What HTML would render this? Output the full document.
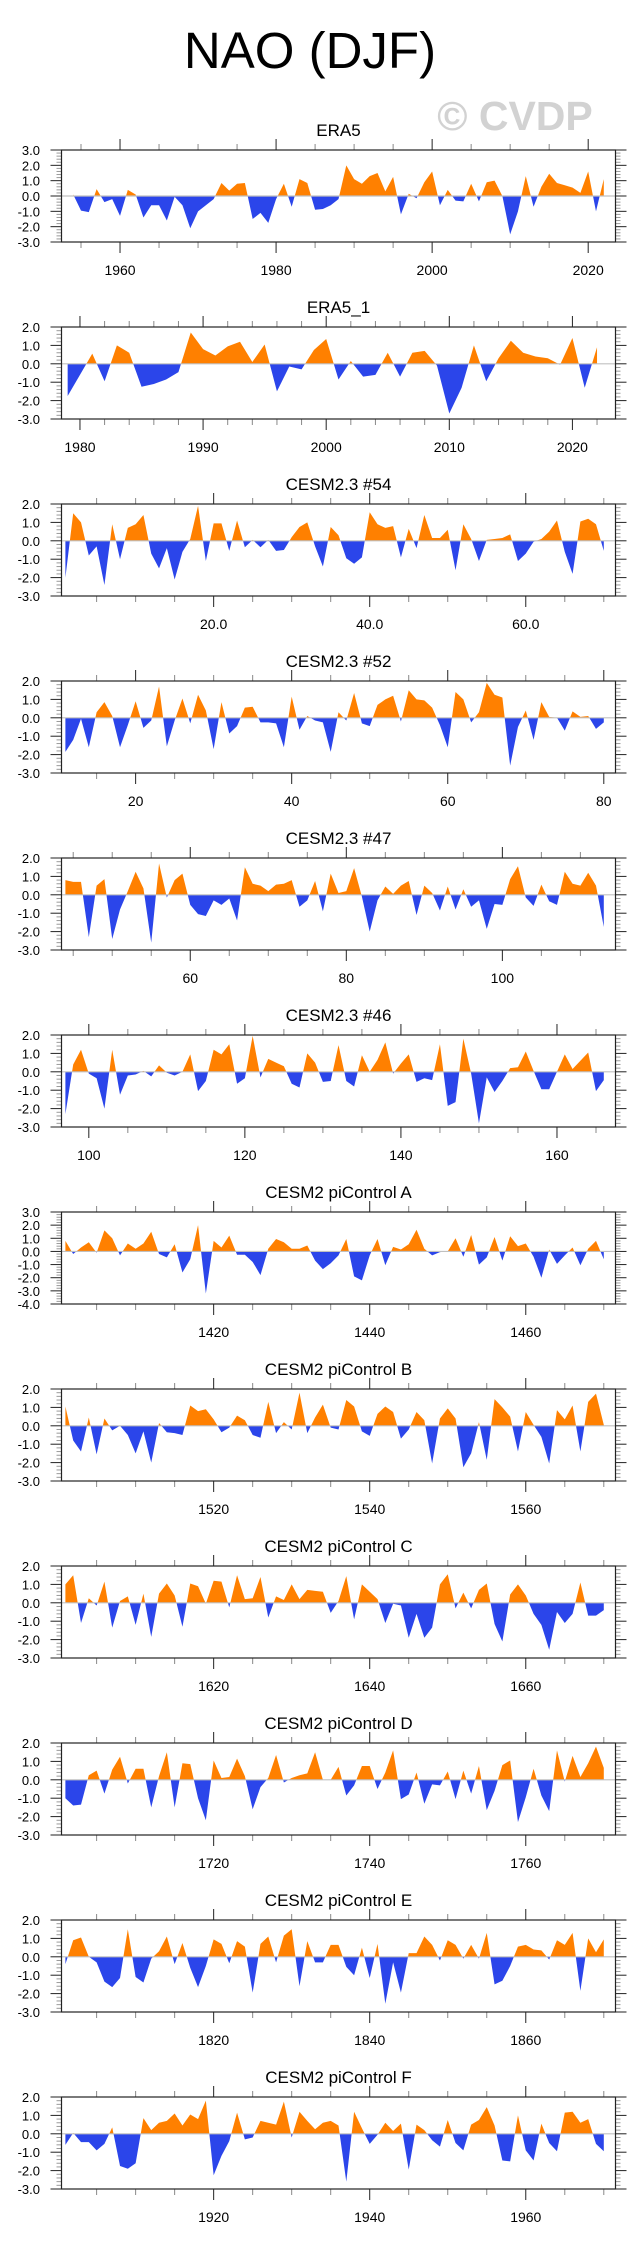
<!DOCTYPE html>
<html><head><meta charset="utf-8"><style>
body{margin:0;background:#fff}
svg{display:block;font-family:"Liberation Sans",sans-serif}
</style></head><body>
<svg id="chart" width="641" height="2253" viewBox="0 0 641 2253" xmlns="http://www.w3.org/2000/svg">
<text x="310" y="68" font-size="51" text-anchor="middle">NAO (DJF)</text>
<text x="515" y="130" font-size="41" font-weight="bold" fill="#d2d2d2" text-anchor="middle">© CVDP</text>
</svg>
<script>
const titles=["ERA5","ERA5_1","CESM2.3 #54","CESM2.3 #52","CESM2.3 #47","CESM2.3 #46","CESM2 piControl A","CESM2 piControl B","CESM2 piControl C","CESM2 piControl D","CESM2 piControl E","CESM2 piControl F"];
const startYears=[1954,1979,1,11,44,97,1401,1501,1601,1701,1801,1901];
const yMaxs=[3,2,2,2,2,2,3,2,2,2,2,2];
const yMins=[-3,-3,-3,-3,-3,-3,-4,-3,-3,-3,-3,-3];
const s0=[0.1,-0.95,-1.05,0.45,-0.4,-0.2,-1.3,0.4,0.1,-1.4,-0.6,-0.6,-1.6,-0.05,-0.6,-2.1,-1.0,-0.6,-0.2,0.85,0.35,0.8,0.85,-1.5,-1.1,-1.75,-0.2,0.8,-0.7,1.1,0.85,-0.9,-0.85,-0.6,-0.2,2.0,1.1,0.8,1.3,1.5,0.3,1.25,-1.2,0.15,-0.15,0.9,1.6,-0.6,0.4,-0.3,-0.35,0.8,-0.35,0.9,1.0,0.0,-2.5,-1.0,1.3,-0.7,0.6,1.45,0.85,0.7,0.55,0.2,1.6,-1.0,1.1];
const s1=[-1.75,-0.6,0.55,-0.95,1.0,0.6,-1.25,-1.1,-0.85,-0.45,1.7,0.8,0.45,0.95,1.2,0.1,1.05,-1.5,-0.15,-0.3,0.75,1.35,-0.85,0.15,-0.7,-0.6,0.6,-0.7,0.6,0.7,-0.1,-2.7,-1.3,1.0,-0.95,0.3,1.25,0.6,0.4,0.3,-0.05,1.4,-1.3,0.9];
const s2=[-2.0,1.5,1.0,-0.8,-0.3,-2.4,0.9,-1.0,0.7,0.9,1.4,-0.7,-1.5,-0.4,-2.1,-0.6,0.1,1.9,-1.1,0.95,0.95,-0.55,1.1,-0.35,0.05,-0.35,0.05,-0.55,-0.5,0.2,0.75,1.0,-0.3,-1.4,0.75,0.3,-0.95,-1.25,-0.9,1.55,0.9,0.7,0.8,-0.9,0.65,-0.4,1.4,0.15,0.15,0.6,-1.6,0.9,0.1,-1.1,0.05,0.1,0.15,0.35,-1.1,-0.7,-0.05,0.1,0.5,1.1,-0.6,-1.8,1.05,1.2,0.9,-0.55];
const s3=[-1.85,-1.2,-0.05,-1.6,0.3,0.85,0.1,-1.6,-0.4,0.9,-0.55,-0.15,1.7,-1.55,-0.15,1.05,-0.3,1.25,0.4,-1.7,0.85,-0.85,-0.45,0.55,0.6,-0.25,-0.25,-0.3,-1.6,1.15,-0.65,0.1,-0.15,-0.25,-1.85,0.3,-0.15,1.35,-0.3,-0.45,0.7,1.0,1.2,-0.2,1.5,1.0,0.95,0.55,-0.4,-1.6,1.4,1.0,-0.25,0.3,1.9,1.25,1.1,-2.6,-0.5,0.4,-1.2,0.85,0.05,0.0,-0.7,0.35,0.05,0.1,-0.6,-0.25];
const s4=[0.8,0.7,0.7,-2.3,0.5,0.85,-2.4,-0.8,0.2,1.25,0.35,-2.6,1.7,-0.15,0.8,1.15,-0.55,-1.05,-1.15,-0.3,-0.55,-0.2,-1.4,1.5,0.6,0.5,0.2,0.55,0.6,0.8,-0.65,-0.3,0.75,-0.9,1.15,0.1,0.2,1.45,-0.1,-2.0,-0.3,0.45,0.05,0.5,0.75,-1.1,0.5,0.1,-0.85,0.45,-0.8,0.3,-0.65,-0.3,-1.85,-0.5,-0.55,0.85,1.55,-0.15,-0.6,0.55,-0.35,-0.55,1.25,0.6,0.5,1.2,0.5,-1.75];
const s5=[-2.3,0.4,1.2,-0.1,-0.35,-2.0,1.2,-1.25,-0.2,-0.15,0.05,-0.25,0.35,-0.05,-0.2,0.0,0.95,-1.05,-0.5,1.2,0.95,1.5,-0.65,-0.35,1.95,-0.3,0.7,0.5,0.3,-0.65,-0.85,1.0,0.5,-0.55,-0.5,1.45,-0.5,-0.8,0.9,0.0,0.65,1.6,-0.1,0.45,0.95,-0.55,-0.35,-0.45,1.5,-1.85,-1.65,1.8,-0.1,-2.8,-0.3,-1.1,-0.5,0.2,0.25,1.1,0.05,-0.95,-0.95,0.0,0.95,0.15,0.6,1.05,-1.05,-0.45];
const s6=[0.8,-0.2,0.3,0.7,-0.1,1.6,1.0,-0.3,0.6,0.2,0.6,1.5,-0.2,-0.45,0.55,-1.6,-0.6,2.0,-3.2,0.8,0.3,1.2,-0.25,-0.25,-0.8,-1.8,0.2,0.95,0.7,0.2,0.2,0.45,-0.7,-1.35,-0.9,-0.3,0.95,-1.9,-2.2,-0.3,0.95,-1.05,0.35,0.15,0.55,1.65,0.2,-0.3,-0.05,0.0,1.0,-0.4,1.25,-1.0,-0.45,1.1,-0.7,1.15,0.4,0.6,-0.4,-2.0,0.15,-0.95,-0.3,0.3,-1.05,0.2,0.8,-0.6];
const s7=[1.05,-0.8,-1.4,0.45,-1.55,0.4,-0.25,0.0,-0.5,-1.5,-0.3,-2.0,0.15,-0.35,-0.4,-0.5,1.1,0.8,0.9,0.35,-0.35,-0.1,0.55,0.3,-0.5,-0.65,1.3,-0.4,0.2,-0.2,1.8,-0.4,0.45,1.15,-0.1,-0.2,1.4,1.05,-0.3,-0.55,0.65,1.05,0.75,-0.7,-0.2,0.75,0.3,-2.05,0.4,0.95,0.4,-2.25,-1.5,0.2,-1.85,1.45,1.0,0.5,-1.4,0.75,0.05,-0.6,-2.05,0.85,0.35,1.1,-1.4,1.3,1.75,0.05];
const s8=[1.0,1.5,-1.1,0.25,-0.15,1.15,-1.35,0.1,0.35,-1.2,0.5,-1.85,0.5,1.05,0.4,-1.3,1.05,0.9,-0.05,1.2,1.15,-0.25,1.5,0.2,0.25,1.4,-0.8,0.35,0.15,1.0,0.2,0.7,0.65,0.6,-0.55,0.1,1.45,-0.9,1.0,0.6,0.2,-1.1,-0.05,-0.15,-1.9,-0.6,-1.9,-1.35,1.0,1.55,-0.3,0.55,-0.3,0.7,1.05,-1.15,-2.1,0.45,1.0,0.4,-0.6,-1.2,-2.55,-0.5,-1.1,-0.6,1.1,-0.7,-0.7,-0.4];
const s9=[-1.0,-1.4,-1.35,0.25,0.5,-0.75,0.55,1.25,-0.2,0.6,0.6,-1.5,0.2,1.5,-1.5,0.9,0.85,-1.0,-2.2,1.05,0.1,0.15,1.15,0.2,-1.6,-0.4,0.1,1.35,-0.15,0.1,0.25,0.35,1.5,0.0,0.0,0.7,-0.85,-0.3,0.75,0.75,-0.5,0.4,1.6,-1.05,-0.8,0.4,-1.3,-0.25,-0.3,0.45,-1.05,0.5,-0.75,0.75,-1.65,-0.6,0.8,1.05,-2.3,-0.95,0.6,-0.85,-1.7,1.6,-0.1,1.3,0.15,0.9,1.8,0.65];
const s10=[-0.4,0.9,1.05,0.0,-0.3,-1.35,-1.65,-1.15,1.5,-1.1,-1.4,-0.1,0.3,1.1,-0.4,0.75,-0.6,-1.65,-0.5,0.95,0.7,-0.35,0.85,0.55,-1.95,0.7,1.1,-0.3,1.15,1.5,-1.6,0.85,-0.3,-0.3,0.65,0.65,-0.55,-1.0,0.5,-1.15,0.7,-2.55,-0.3,-1.95,0.2,0.2,1.1,0.65,-0.2,0.9,0.65,-0.1,0.65,-0.1,1.3,-1.5,-1.3,-0.5,0.55,0.65,0.4,0.35,-0.15,0.9,0.65,1.3,-1.85,1.0,0.25,0.95];
const s11=[-0.6,0.05,-0.45,-0.45,-0.9,-0.55,0.35,-1.75,-1.9,-1.6,0.85,0.2,0.6,0.7,1.1,0.45,1.05,0.8,1.8,-2.25,-1.2,-0.4,1.15,-0.3,-0.2,0.7,0.6,0.5,1.75,-0.2,1.2,0.7,0.25,0.6,0.7,0.45,-2.6,1.2,0.3,-0.55,-0.05,0.6,0.15,0.55,-1.95,0.5,0.2,-0.35,-0.7,0.75,-0.5,-0.9,0.5,0.75,1.45,0.45,-1.45,-1.5,1.0,-0.9,-1.45,0.55,-0.5,-0.95,1.15,1.2,0.6,0.8,-0.55,-0.95];
const series=[s0,s1,s2,s3,s4,s5,s6,s7,s8,s9,s10,s11];
const xMinorSteps=[5,2,5,5,5,5,5,5,5,5,5,5];
const xMajorSteps=[20,10,20,20,20,20,20,20,20,20,20,20];

const NS="http://www.w3.org/2000/svg";
const svg=document.getElementById('chart');
function el(tag,attrs,parent){const e=document.createElementNS(NS,tag);for(const k in attrs)e.setAttribute(k,attrs[k]);(parent||svg).appendChild(e);return e;}
const L=61.5,R=615.5,H=92;
for(let p=0;p<12;p++){
  const top=150+177*p,bot=top+H;
  const data=series[p],st=startYears[p];
  const last=st+data.length-1;
  const padL=p===0?1.5:(p===1?0.5:0.5),padR=1.5;
  const x0=st-padL,x1=last+padR;
  const xs=v=>L+(v-x0)/(x1-x0)*(R-L);
  const ys=v=>top+(yMaxs[p]-v)/(yMaxs[p]-yMins[p])*H;
  const g=el('g',{});
  
  
  const t=el('text',{x:(L+R)/2,y:top-14,'font-size':17,'text-anchor':'middle'},g);
  
  
  t.textContent=titles[p];
  const z=ys(0);
  let d='M'+xs(st)+','+z;
  data.forEach((v,i)=>{d+=' L'+xs(st+i).toFixed(2)+','+ys(v).toFixed(2);});
  d+=' L'+xs(last)+','+z+' Z';
  const cpA=el('clipPath',{id:'ca'+p},g);el('rect',{x:L,y:top,width:R-L,height:z-top},cpA);
  const cpB=el('clipPath',{id:'cb'+p},g);el('rect',{x:L,y:z,width:R-L,height:bot-z},cpB);
  const pa=el('path',{d:d,fill:'#ff8000','clip-path':'url(#ca'+p+')'},g);
  
  
  const pb=el('path',{d:d,fill:'#2b45ea','clip-path':'url(#cb'+p+')'},g);
  
  
  const zl=el('line',{x1:L,x2:R,y1:z,y2:z,stroke:'#c0c0c0','stroke-width':1.2},g);
  
  
  // y ticks
  for(let v=yMins[p];v<=yMaxs[p]+1e-6;v+=0.2){
    const y=ys(v),maj=Math.abs(v-Math.round(v))<1e-6;
    el('line',{x1:L-(maj?11:5),x2:L,y1:y,y2:y,stroke:maj?'#222':'#999','stroke-width':1},g);
    el('line',{x1:R,x2:R+(maj?11:5),y1:y,y2:y,stroke:maj?'#222':'#999','stroke-width':1},g);
    if(maj){const tl=el('text',{x:40,y:y+5,'font-size':13,'text-anchor':'end'},g);
      
      
      tl.textContent=Math.round(v).toFixed(1);}
  }
  // x ticks
  const ms=xMinorSteps[p],Ms=xMajorSteps[p];
  for(let v=Math.ceil(x0/ms)*ms;v<=x1;v+=ms){
    const x=xs(v),maj=v%Ms===0;
    el('line',{x1:x,x2:x,y1:top-(maj?11:6),y2:top,stroke:maj?'#222':'#888','stroke-width':1},g);
    el('line',{x1:x,x2:x,y1:bot,y2:bot+(maj?11:6),stroke:maj?'#222':'#888','stroke-width':1},g);
    if(maj){const xl=el('text',{x:x,y:bot+33,'font-size':14,'text-anchor':'middle'},g);
      
      
      xl.textContent=(p===2)?v.toFixed(1):String(v);}
  }
  const fr=el('rect',{x:L,y:top,width:R-L,height:H,fill:'none',stroke:'#222','stroke-width':1.2},g);
  
  
}
</script>
</body></html>
